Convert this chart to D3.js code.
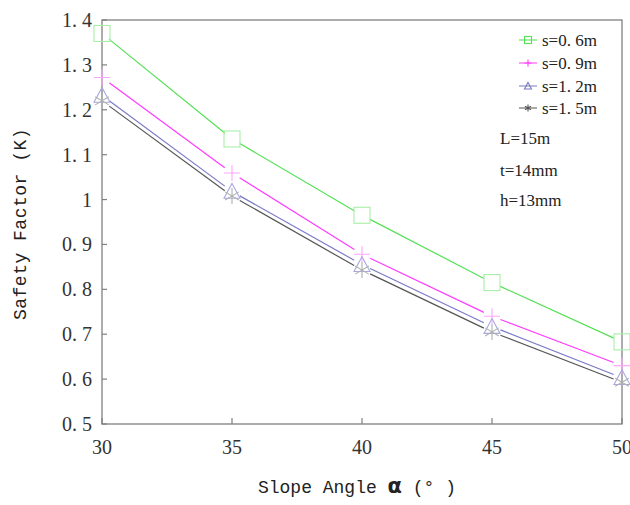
<!DOCTYPE html>
<html lang="en">
<head>
    <meta charset="UTF-8">
    <title>Safety factor vs slope angle</title>
    <script src="https://d3js.org/d3.v7.min.js"></script>
    <style>
        body { margin: 0; background: #fff; }
        .tick-label { font-family: "Liberation Serif", serif; font-size: 20px; fill: #333; }
        .legend-text, .note { font-family: "Liberation Serif", serif; font-size: 17px; fill: #222; }
        .axis-title { font-family: "Liberation Mono", monospace; font-size: 18px; fill: #222; }
    </style>
</head>
<body>
<script>
    const width  = 630;
    const height = 505;

    const angles = [30, 35, 40, 45, 50];
    const s06 = [1.37, 1.135, 0.965, 0.815, 0.683];
    const s09 = [1.272, 1.059, 0.878, 0.740, 0.630];
    const s12 = [1.232, 1.018, 0.855, 0.717, 0.603];
    const s15 = [1.220, 1.008, 0.843, 0.705, 0.593];

    const seriesNames = ["s=0. 6m", "s=0. 9m", "s=1. 2m", "s=1. 5m"];
    const yTicks = [0.5, 0.6, 0.7, 0.8, 0.9, 1.0, 1.1, 1.2, 1.3, 1.4];
    const yTickLabels = ["0. 5", "0. 6", "0. 7", "0. 8", "0. 9", "1", "1. 1", "1. 2", "1. 3", "1. 4"];
    const notes = ["L=15m", "t=14mm", "h=13mm"];

    const series = [
        {name: seriesNames[0], values: s06, line: "#55e055", mark: "#a8eea8", shape: "square"},
        {name: seriesNames[1], values: s09, line: "#ff3cff", mark: "#ffa6ff", shape: "plus"},
        {name: seriesNames[2], values: s12, line: "#7a7ac8", mark: "#a8a8e0", shape: "triangle"},
        {name: seriesNames[3], values: s15, line: "#555555", mark: "#b0b0b0", shape: "asterisk"}
    ];

    const margin = {left: 102, top: 20, right: 8, bottom: 81};

    const x = d3.scaleLinear().domain([30, 50]).range([margin.left, width - margin.right]);
    const y = d3.scaleLinear().domain([0.5, 1.4]).range([height - margin.bottom, margin.top]);

    const svg = d3.select("body").append("svg").attr("width", width).attr("height", height);

    // frame
    svg.append("rect")
        .attr("x", x(30)).attr("y", y(1.4))
        .attr("width", x(50) - x(30)).attr("height", y(0.5) - y(1.4))
        .attr("fill", "none").attr("stroke", "#808080").attr("stroke-width", 1.3);

    // y ticks (inward)
    svg.selectAll("line.ytick").data(yTicks).enter().append("line")
        .attr("x1", x(30)).attr("x2", x(30) + 5)
        .attr("y1", d => y(d)).attr("y2", d => y(d))
        .attr("stroke", "#808080").attr("stroke-width", 1.2);
    svg.selectAll("text.ytl").data(yTicks).enter().append("text")
        .attr("class", "tick-label")
        .attr("x", x(30) - 10).attr("y", d => y(d) + 7)
        .attr("text-anchor", "end")
        .text((d, i) => yTickLabels[i]);

    // x ticks (inward)
    svg.selectAll("line.xtick").data(angles).enter().append("line")
        .attr("x1", d => x(d)).attr("x2", d => x(d))
        .attr("y1", y(0.5)).attr("y2", y(0.5) - 6)
        .attr("stroke", "#808080").attr("stroke-width", 1.2);
    svg.selectAll("text.xtl").data(angles).enter().append("text")
        .attr("class", "tick-label")
        .attr("x", d => x(d)).attr("y", y(0.5) + 30)
        .attr("text-anchor", "middle")
        .text(d => d);

    // symbol painter
    function drawMark(g, shape, color, cx, cy, r) {
        if (shape === "square") {
            g.append("rect").attr("x", cx - r).attr("y", cy - r)
                .attr("width", 2 * r).attr("height", 2 * r)
                .attr("fill", "none").attr("stroke", color).attr("stroke-width", 1.1);
        } else if (shape === "plus") {
            g.append("path").attr("d", `M${cx - r},${cy}H${cx + r}M${cx},${cy - r}V${cy + r}`)
                .attr("stroke", color).attr("stroke-width", 1.1).attr("fill", "none");
        } else if (shape === "triangle") {
            g.append("path").attr("d", `M${cx},${cy - r}L${cx + r},${cy + r * 0.85}L${cx - r},${cy + r * 0.85}Z`)
                .attr("stroke", color).attr("stroke-width", 1.1).attr("fill", "none");
        } else {
            const a = r * 0.85;
            g.append("path").attr("d",
                `M${cx - a},${cy - a * 0.6}L${cx + a},${cy + a * 0.6}M${cx - a},${cy + a * 0.6}L${cx + a},${cy - a * 0.6}M${cx},${cy - r}V${cy + r}`)
                .attr("stroke", color).attr("stroke-width", 1.1).attr("fill", "none");
        }
    }

    const gap = 9;
    series.forEach(s => {
        const g = svg.append("g");
        const pts = angles.map((a, i) => [x(a), y(s.values[i])]);
        for (let i = 0; i < pts.length - 1; i++) {
            const [x0, y0] = pts[i], [x1, y1] = pts[i + 1];
            const len = Math.hypot(x1 - x0, y1 - y0);
            const ux = (x1 - x0) / len, uy = (y1 - y0) / len;
            g.append("line")
                .attr("x1", x0 + ux * gap).attr("y1", y0 + uy * gap)
                .attr("x2", x1 - ux * gap).attr("y2", y1 - uy * gap)
                .attr("stroke", s.line).attr("stroke-width", 1.2);
        }
        pts.forEach(p => drawMark(g, s.shape, s.mark, p[0], p[1], 8));
    });

    // legend
    const legendY = [40, 63, 86, 108];
    series.forEach((s, i) => {
        const g = svg.append("g");
        g.append("line").attr("x1", 519).attr("x2", 537)
            .attr("y1", legendY[i]).attr("y2", legendY[i])
            .attr("stroke", s.line).attr("stroke-width", 1);
        drawMark(g, s.shape, s.line, 528, legendY[i], 3.5);
        g.append("text").attr("class", "legend-text")
            .attr("x", 542).attr("y", legendY[i] + 6)
            .text(s.name);
    });

    // notes
    const noteY = [138, 170, 200];
    svg.selectAll("text.note").data(notes).enter().append("text")
        .attr("class", "note")
        .attr("x", 500).attr("y", (d, i) => noteY[i] + 6)
        .text(d => d);

    // axis titles
    const xt = svg.append("text").attr("class", "axis-title")
        .attr("x", 357).attr("y", 493).attr("text-anchor", "middle");
    xt.append("tspan").text("Slope Angle ");
    xt.append("tspan").attr("font-weight", "bold").attr("font-size", "21px")
        .attr("font-family", "DejaVu Sans").text("α");
    xt.append("tspan").text(" (° )");

    svg.append("text").attr("class", "axis-title")
        .attr("transform", "translate(26,224) rotate(-90)")
        .attr("text-anchor", "middle")
        .attr("letter-spacing", "0.5px")
        .text("Safety Factor (K)");
</script>
</body>
</html>
